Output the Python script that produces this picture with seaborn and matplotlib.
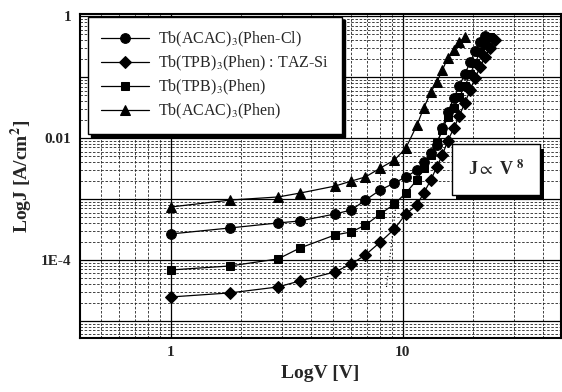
import matplotlib
matplotlib.use('Agg')
import matplotlib.pyplot as plt
import matplotlib.ticker as mticker
import matplotlib.patheffects as pe
import pandas as pd
import seaborn as sns

# Voltage steps (V) shared by all devices
volts = [1, 1.8, 2.9, 3.6, 5.1, 6.0, 6.9, 8.0, 9.2, 10.3, 11.5, 12.3, 13.2,
         14.0, 14.8, 15.6, 16.6, 17.5, 18.5, 19.5, 20.5, 21.5, 22.6, 23.7, 24.9]

# Current density (A/cm^2) per device
j_acac_phencl = [2.67e-4, 3.35e-4, 4.05e-4, 4.36e-4, 5.68e-4, 6.61e-4, 9.6e-4,
                 1.41e-3, 1.83e-3, 2.30e-3, 2.98e-3, 4.05e-3, 5.68e-3, 7.67e-3,
                 1.46e-2, 2.67e-2, 4.53e-2, 7.1e-2, 0.112, 0.176, 0.267, 0.375, 0.47]
j_tpb_taz = [2.47e-5, 2.88e-5, 3.61e-5, 4.53e-5, 6.36e-5, 8.6e-5, 1.21e-4,
             1.97e-4, 3.22e-4, 5.68e-4, 7.98e-4, 1.25e-3, 2.05e-3, 3.35e-3,
             5.26e-3, 8.93e-3, 1.46e-2, 2.30e-2, 3.75e-2, 6.12e-2, 9.64e-2,
             0.146, 0.213, 0.299, 0.405]
j_tpb_phen = [6.85e-5, 7.97e-5, 1.04e-4, 1.57e-4, 2.57e-4, 2.88e-4, 3.75e-4,
              5.68e-4, 8.28e-4, 1.25e-3, 2.05e-3, 3.22e-3, 5.26e-3, 8.28e-3,
              1.35e-2, 2.21e-2, 3.10e-2, 4.70e-2, 7.1e-2, 0.112, 0.170, 0.257,
              0.36, 0.453]
j_acac_phen = [7.4e-4, 9.6e-4, 1.08e-3, 1.25e-3, 1.63e-3, 1.97e-3, 2.30e-3,
               3.22e-3, 4.36e-3, 6.85e-3, 1.63e-2, 3.10e-2, 5.68e-2, 8.28e-2,
               0.130, 0.205, 0.277, 0.375, 0.453]

labels = ['Tb(ACAC)$_3$(Phen-Cl)', 'Tb(TPB)$_3$(Phen) : TAZ-Si',
          'Tb(TPB)$_3$(Phen)', 'Tb(ACAC)$_3$(Phen)']
markers = ['o', 'D', 's', '^']
marker_sizes = [7, 6, 6, 7]

# dotted guide near the onset
guide_v = [8.5, 9.4]
guide_j = [3.6e-5, 1.0e-3]

sns.set_style('white')
plt.rcParams['font.family'] = ['Liberation Serif', 'DejaVu Serif']
plt.rcParams['mathtext.fontset'] = 'stix'

fig = plt.figure(figsize=(5.62, 3.92), dpi=100)
ax = fig.add_axes([0.142, 0.138, 0.856, 0.826])

series = [j_acac_phencl, j_tpb_taz, j_tpb_phen, j_acac_phen]
for vals, lab, mk, ms in zip(series, labels, markers, marker_sizes):
    df = pd.DataFrame({'V': volts[:len(vals)], 'J': vals})
    sns.lineplot(data=df, x='V', y='J', ax=ax, color='black', lw=0.9,
                 marker=mk, markersize=ms, markeredgecolor='black',
                 label=lab, sort=False)

ax.plot(guide_v, guide_j, color='black', lw=0.8, ls=(0, (1, 2)))

ax.set_xscale('log')
ax.set_yscale('log')
ax.set_xlim(0.405, 48)
ax.set_ylim(5.26e-6, 1.08)

ax.xaxis.set_major_locator(mticker.FixedLocator([1, 10]))
ax.xaxis.set_major_formatter(mticker.FixedFormatter(['1', '10']))
ax.xaxis.set_minor_locator(mticker.LogLocator(base=10, subs=range(2, 10), numticks=20))
ax.xaxis.set_minor_formatter(mticker.NullFormatter())

decades = [1e-5, 1e-4, 1e-3, 1e-2, 1e-1, 1]
ylab = {1e-4: '1E-4', 1e-2: '0.01', 1: '1'}
ax.yaxis.set_major_locator(mticker.FixedLocator(decades))
ax.yaxis.set_major_formatter(mticker.FuncFormatter(
    lambda v, p: next((s for k, s in ylab.items() if abs(v / k - 1) < 1e-6), '')))
ax.yaxis.set_minor_locator(mticker.LogLocator(base=10, subs=range(2, 10), numticks=20))
ax.yaxis.set_minor_formatter(mticker.NullFormatter())

ax.grid(which='major', color='black', lw=0.9, ls='-')
ax.grid(which='minor', color='#222222', lw=0.6, ls=(0, (3, 2)))
ax.set_axisbelow(True)

ax.tick_params(which='both', direction='in', color='black')
ax.tick_params(which='major', length=0, labelsize=11, pad=6)
ax.tick_params(which='minor', length=3)
for t in ax.get_xticklabels() + ax.get_yticklabels():
    t.set_fontweight('bold')
for s in ax.spines.values():
    s.set_color('black')
    s.set_linewidth(1.5)

ax.set_xlabel('LogV [V]', fontsize=14, fontweight='bold', labelpad=4)
ax.set_ylabel('LogJ [A/cm$^\\mathbf{2}$]', fontsize=14, fontweight='bold', labelpad=4)

leg = ax.legend(loc='upper left', bbox_to_anchor=(0.017, 0.99), fontsize=11.5,
                frameon=True, fancybox=False, edgecolor='black', framealpha=1,
                shadow={'color': 'black', 'alpha': 1}, handlelength=3.0,
                borderpad=0.8, labelspacing=0.3, borderaxespad=0, handletextpad=0.6)
leg.get_frame().set_linewidth(1.0)

txt = ax.text(0.865, 0.52, 'J$\\propto$ V $^\\mathbf{8}$', transform=ax.transAxes,
              ha='center', va='center', fontsize=13, fontweight='bold',
              bbox=dict(boxstyle='square,pad=0.85', fc='white', ec='black', lw=1.0))
txt.get_bbox_patch().set_path_effects([
    pe.SimplePatchShadow(offset=(3, -3), shadow_rgbFace='black', alpha=1),
    pe.Normal()])

fig.savefig('out.png', dpi=100)
